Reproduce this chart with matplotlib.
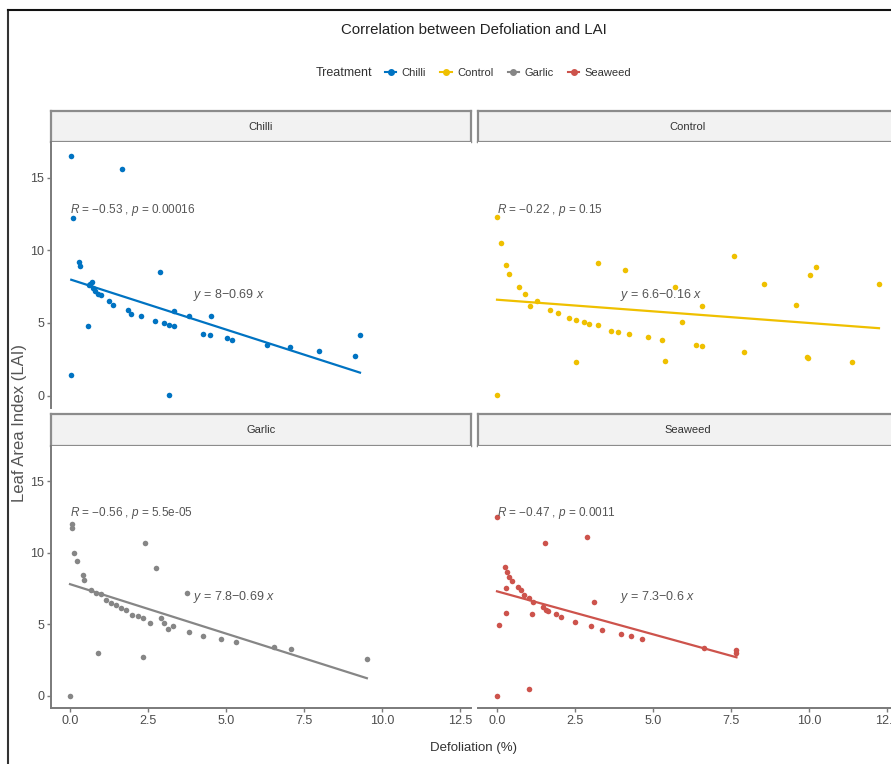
import matplotlib
matplotlib.use("Agg")
import matplotlib.pyplot as plt
from matplotlib.lines import Line2D
import numpy as np

plt.rcParams['font.family'] = ['Liberation Sans', 'DejaVu Sans']
plt.rcParams['mathtext.fontset'] = 'custom'
plt.rcParams['mathtext.rm'] = 'Liberation Sans'
plt.rcParams['mathtext.it'] = 'Liberation Sans:italic'

# data
groups = ['Chilli', 'Control', 'Garlic', 'Seaweed']
colors = ['#0073C2', '#EFC000', '#868686', '#CD534C']

chilli_x = [0.04, 1.67, 0.09, 0.28, 0.33, 2.88, 0.60, 0.65, 0.70, 0.75, 0.80, 0.90, 0.58, 0.04, 3.17,
            0.98, 1.24, 1.38, 1.86, 1.97, 2.27, 2.71, 3.01, 3.17, 3.33, 3.33, 3.82, 4.53, 4.28, 4.49,
            5.05, 5.19, 6.31, 7.05, 7.97, 9.14, 9.30]
chilli_y = [16.5, 15.6, 12.2, 9.2, 8.9, 8.5, 7.6, 7.7, 7.8, 7.4, 7.2, 7.0, 4.8, 1.4, 0.07,
            6.9, 6.5, 6.25, 5.86, 5.63, 5.47, 5.13, 4.99, 4.87, 4.76, 5.8, 5.47, 5.47, 4.25, 4.2,
            3.95, 3.86, 3.5, 3.33, 3.06, 2.76, 4.14]

control_x = [0, 0.13, 0, 0.29, 0.39, 0.72, 0.91, 1.07, 1.28, 1.71, 1.94, 2.32, 2.53, 2.8, 2.96,
             3.23, 2.53, 3.25, 4.11, 3.65, 3.87, 4.24, 4.83, 5.28, 5.38, 5.71, 5.92, 6.59, 6.38,
             6.56, 7.61, 7.93, 8.55, 9.6, 9.94, 9.98, 10.04, 10.23, 11.4, 12.25]
control_y = [12.3, 10.5, 0.07, 8.97, 8.39, 7.47, 7.01, 6.2, 6.5, 5.91, 5.68, 5.33, 5.22, 5.06, 4.94,
             4.83, 2.3, 9.1, 8.67, 4.48, 4.37, 4.25, 4.02, 3.84, 2.37, 7.47, 5.1, 6.2, 3.5,
             3.4, 9.6, 2.99, 7.7, 6.25, 2.64, 2.6, 8.28, 8.85, 2.3, 7.66]

garlic_x = [0, 0.05, 0.05, 0.14, 0.22, 0.41, 0.46, 0.67, 0.83, 0.99, 1.15, 1.31, 1.47, 1.63, 1.79,
            2.0, 2.17, 2.33, 2.57, 2.92, 3.02, 3.13, 3.29, 3.8, 4.28, 4.84, 5.32, 6.55, 7.08, 9.52,
            0.91, 2.33, 2.4, 2.76, 3.75]
garlic_y = [0, 12.0, 11.7, 9.95, 9.4, 8.45, 8.1, 7.4, 7.2, 7.08, 6.7, 6.5, 6.35, 6.15, 6.0,
            5.66, 5.55, 5.45, 5.1, 5.45, 5.1, 4.65, 4.9, 4.45, 4.17, 3.95, 3.76, 3.43, 3.3, 2.6,
            2.97, 2.74, 10.7, 8.9, 7.15]

seaweed_x = [0, 0, 0.07, 0.29, 0.29, 0.27, 0.32, 0.39, 0.47, 0.66, 0.77, 0.88, 1.04, 1.14, 1.12,
             1.02, 1.54, 1.46, 1.57, 1.64, 1.89, 2.05, 2.51, 2.87, 3.03, 3.37, 3.1, 3.97, 4.29,
             4.65, 6.65, 7.66, 7.68]
seaweed_y = [0, 12.5, 4.97, 5.77, 7.5, 8.99, 8.64, 8.3, 8.02, 7.6, 7.38, 7.03, 6.8, 6.57, 5.72,
             0.48, 10.7, 6.23, 6.0, 5.93, 5.72, 5.54, 5.19, 11.1, 4.85, 4.62, 6.53, 4.32, 4.16,
             4.0, 3.31, 3.0, 3.19]

intercepts = [8, 6.6, 7.8, 7.3]
slopes = [-0.69, -0.16, -0.69, -0.6]
r_vals = ['\u22120.53', '\u22120.22', '\u22120.56', '\u22120.47']
p_vals = ['0.00016', '0.15', '5.5e-05', '0.0011']
eq_text = ['8\u22120.69', '6.6\u22120.16', '7.8\u22120.69', '7.3\u22120.6']

xs = [chilli_x, control_x, garlic_x, seaweed_x]
ys = [chilli_y, control_y, garlic_y, seaweed_y]

W, H = 891, 764
def rect(x0, y0, x1, y1):
    return [x0 / W, 1 - y1 / H, (x1 - x0) / W, (y1 - y0) / H]

fig = plt.figure(figsize=(W / 100, H / 100), dpi=100)

# panel boxes in pixels: (left, strip top, panel top, panel bottom)
cols = [(51, 471), (478, 898)]
rows = [(111, 142, 408), (414, 446, 708)]
axc = '#7a7a7a'
txtc = '#4d4d4d'

for i, g in enumerate(groups):
    r, c = divmod(i, 2)
    x0, x1 = cols[c]
    st, pt, pb = rows[r]

    sax = fig.add_axes(rect(x0, st, x1, pt))
    sax.set_facecolor('#F2F2F2')
    sax.set_xticks([]); sax.set_yticks([])
    for s in sax.spines.values():
        s.set_color('#8c8c8c'); s.set_linewidth(1.6)
    sax.text(0.5, 0.5, g, ha='center', va='center', fontsize=8, color='#333333',
             transform=sax.transAxes)

    ax = fig.add_axes(rect(x0, pt, x1, pb))
    x = np.array(xs[i]); y = np.array(ys[i])
    ax.scatter(x, y, s=16, color=colors[i], zorder=3, linewidths=0)
    lx = np.array([x.min(), x.max()])
    ax.plot(lx, intercepts[i] + slopes[i] * lx, color=colors[i], lw=1.6, zorder=2)
    ax.text(0, 12.8, r'$\mathit{R}$ = ' + r_vals[i] + r' , $\mathit{p}$ = ' + p_vals[i],
            fontsize=8.5, color='#555555', va='center', ha='left')
    ax.text(3.95, 6.9, r'$\mathit{y}$ = ' + eq_text[i] + r' $\mathit{x}$',
            fontsize=9, color='#555555', va='center', ha='left')

    ax.set_xlim(-0.61, 12.86)
    ax.set_ylim(-0.85, 17.45)
    ax.set_xticks([0, 2.5, 5, 7.5, 10, 12.5])
    ax.set_xticklabels(['0.0', '2.5', '5.0', '7.5', '10.0', '12.5'])
    ax.set_yticks([0, 5, 10, 15])
    ax.tick_params(colors=axc, labelcolor=txtc, labelsize=9, length=3, width=1, pad=2)
    for s in ax.spines.values():
        s.set_visible(False)
    if c == 0:
        ax.spines['left'].set_visible(True)
        ax.spines['left'].set_color(axc); ax.spines['left'].set_linewidth(1.4)
    else:
        ax.tick_params(left=False, labelleft=False)
    if r == 1:
        ax.spines['bottom'].set_visible(True)
        ax.spines['bottom'].set_color(axc); ax.spines['bottom'].set_linewidth(1.4)
    else:
        ax.tick_params(bottom=False, labelbottom=False)

fig.text(474 / W, 1 - 30 / H, 'Correlation between Defoliation and LAI', ha='center', va='center',
         fontsize=10.8, color='#222222')
fig.text(344 / W, 1 - 73 / H, 'Treatment', ha='center', va='center', fontsize=9, color='#333333')
handles = [Line2D([0], [0], color=col, marker='o', markersize=4, lw=1.5) for col in colors]
fig.legend(handles, groups, loc='center left', bbox_to_anchor=(375 / W, 1 - 73 / H), ncol=4,
           frameon=False, fontsize=8, handlelength=1.0, handletextpad=0.5, columnspacing=1.3,
           labelcolor='#333333')

fig.text(474 / W, 1 - 748 / H, 'Defoliation (%)', ha='center', va='center', fontsize=9.5,
         color='#333333')
fig.text(20 / W, 1 - 423 / H, 'Leaf Area Index (LAI)', ha='center', va='center', rotation=90,
         fontsize=12, color='#555555')

# screenshot frame lines
fig.add_artist(Line2D([8 / W, 8 / W], [0, 1 - 10 / H], transform=fig.transFigure, color='#333333', lw=1.5))
fig.add_artist(Line2D([8 / W, 1], [1 - 10 / H, 1 - 10 / H], transform=fig.transFigure, color='#111111', lw=1.5))

fig.savefig('out.png', dpi=100)
